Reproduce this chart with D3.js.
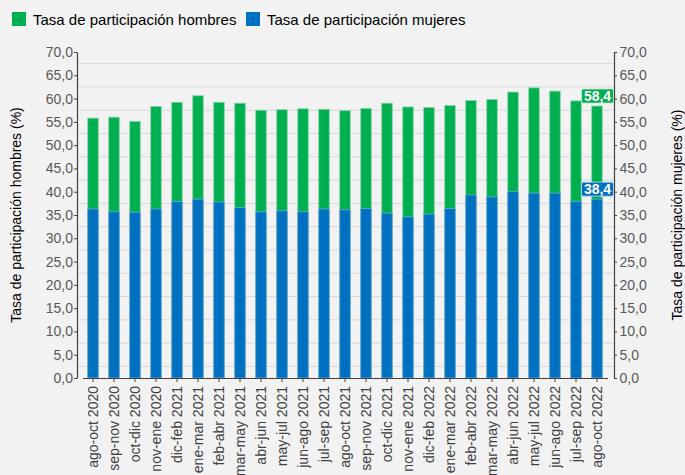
<!DOCTYPE html>
<html>
<head>
<meta charset="utf-8">
<script src="https://cdn.jsdelivr.net/npm/d3@7"></script>
<style>
  body { margin: 0; background: #f2f2f2; }
  svg { font-family: "Liberation Sans", Arial, sans-serif; }
</style>
</head>
<body>
<div id="chart"></div>
<script>
// periodos trimestrales moviles
var periodos = ["ago-oct 2020", "sep-nov 2020", "oct-dic 2020", "nov-ene 2020", "dic-feb 2021",
  "ene-mar 2021", "feb-abr 2021", "mar-may 2021", "abr-jun 2021", "may-jul 2021", "jun-ago 2021",
  "jul-sep 2021", "ago-oct 2021", "sep-nov 2021", "oct-dic 2021", "nov-ene 2021", "dic-feb 2022",
  "ene-mar 2022", "feb-abr 2022", "mar-may 2022", "abr-jun 2022", "may-jul 2022", "jun-ago 2022",
  "jul-sep 2022", "ago-oct 2022"];

var hombres = [55.8, 56.0, 55.1, 58.3, 59.2, 60.6, 59.2, 59.0, 57.5, 57.6, 57.8, 57.7, 57.4,
  57.9, 59.0, 58.2, 58.1, 58.5, 59.6, 59.8, 61.4, 62.3, 61.6, 59.5, 58.4];

var mujeres = [36.3, 35.7, 35.6, 36.3, 37.9, 38.4, 37.8, 36.6, 35.7, 35.9, 35.7, 36.3, 36.1,
  36.4, 35.4, 34.6, 35.2, 36.4, 39.3, 38.9, 40.0, 39.7, 39.7, 37.9, 38.4];

var yTicks = d3.range(0, 70.1, 5);
var gridVals = d3.range(2.5, 70, 5);

var width = 685, height = 475;
var verde = "#00b050", azul = "#0070c0";
var fmt = function(v) { return d3.format(".1f")(v).replace(".", ","); };

var svg = d3.select("#chart").append("svg")
    .attr("width", width)
    .attr("height", height);

svg.append("rect").attr("width", width).attr("height", height).attr("fill", "#f2f2f2");

var mLeft = 77, mRight = 614, mTop = 52, mBottom = 378;

var x = d3.scaleBand()
    .domain(periodos)
    .range([82.5, 607.5])
    .paddingInner(0.5)
    .paddingOuter(0.25);

var y = d3.scaleLinear()
    .domain([0, 70])
    .range([mBottom, mTop]);

// grid
svg.append("g")
  .selectAll("line")
  .data(gridVals)
  .enter().append("line")
    .attr("x1", mLeft).attr("x2", mRight)
    .attr("y1", function(d) { return y(d); })
    .attr("y2", function(d) { return y(d); })
    .attr("stroke", "#d9d9d9")
    .attr("stroke-width", 1);

// barras hombres (detras)
svg.append("g")
  .selectAll("rect")
  .data(hombres)
  .enter().append("rect")
    .attr("x", function(d, i) { return x(periodos[i]); })
    .attr("y", function(d) { return y(d); })
    .attr("width", x.bandwidth())
    .attr("height", function(d) { return y(0) - y(d); })
    .attr("fill", verde)
    .attr("stroke", "#7fd6a3")
    .attr("stroke-width", 0.8);

// barras mujeres (delante)
svg.append("g")
  .selectAll("rect")
  .data(mujeres)
  .enter().append("rect")
    .attr("x", function(d, i) { return x(periodos[i]); })
    .attr("y", function(d) { return y(d); })
    .attr("width", x.bandwidth())
    .attr("height", function(d) { return y(0) - y(d); })
    .attr("fill", azul)
    .attr("stroke", "#6fa8dc")
    .attr("stroke-width", 0.8);

// ejes
var yLeft = svg.append("g")
    .attr("transform", "translate(" + mLeft + ",0)")
    .call(d3.axisLeft(y).tickValues(yTicks).tickFormat(fmt).tickSize(3).tickSizeOuter(0));
var yRight = svg.append("g")
    .attr("transform", "translate(" + mRight + ",0)")
    .call(d3.axisRight(y).tickValues(yTicks).tickFormat(fmt).tickSize(3).tickSizeOuter(0));
var xAxis = svg.append("g")
    .attr("transform", "translate(0," + mBottom + ")")
    .call(d3.axisBottom(x).tickSize(4).tickSizeOuter(0));

[yLeft, yRight, xAxis].forEach(function(g) {
  g.select(".domain").attr("stroke", "#404040").attr("stroke-width", 1.2);
  g.selectAll(".tick line").attr("stroke", "#404040");
  g.selectAll("text").attr("fill", "#595959").style("font-size", "14px")
    .style("font-family", "'Liberation Sans', Arial, sans-serif");
});
yLeft.selectAll("text").attr("x", -4);
yRight.selectAll("text").attr("x", 5.5);

xAxis.selectAll("text")
    .attr("transform", "rotate(-90)")
    .attr("text-anchor", "end")
    .attr("x", -8)
    .attr("y", 0)
    .attr("dy", "0.35em")
    .attr("fill", "#404040")
    .style("font-size", "14px");

// titulos de ejes
svg.append("text")
    .attr("transform", "translate(21," + (mTop + mBottom) / 2 + ") rotate(-90)")
    .attr("text-anchor", "middle")
    .style("font-size", "14px")
    .attr("fill", "#000")
    .text("Tasa de participación hombres (%)");
svg.append("text")
    .attr("transform", "translate(682," + (mTop + mBottom) / 2 + ") rotate(-90)")
    .attr("text-anchor", "middle")
    .style("font-size", "14px")
    .attr("fill", "#000")
    .text("Tasa de participación mujeres (%)");

// leyenda
var legend = [["Tasa de participación hombres", verde, 12], ["Tasa de participación mujeres", azul, 246]];
legend.forEach(function(l) {
  svg.append("rect").attr("x", l[2]).attr("y", 12).attr("width", 14).attr("height", 14).attr("fill", l[1]);
  svg.append("text").attr("x", l[2] + 21).attr("y", 24.5)
      .style("font-size", "15px").attr("fill", "#000").text(l[0]);
});

// etiquetas ultimo valor
var last = periodos.length - 1;
[[hombres[last], verde, "#bfeccf"], [mujeres[last], azul, "#bfdbf0"]].forEach(function(p) {
  var cy = y(p[0]) - 10;
  svg.append("rect")
      .attr("x", mRight - 32.5).attr("y", cy - 7)
      .attr("width", 32).attr("height", 14).attr("rx", 2)
      .attr("fill", p[1])
      .attr("stroke", p[2])
      .attr("stroke-width", 0.8);
  svg.append("text")
      .attr("x", mRight - 16.5).attr("y", cy)
      .attr("dy", "0.36em")
      .attr("text-anchor", "middle")
      .attr("fill", "#fff")
      .style("font-size", "14px")
      .style("font-weight", "bold")
      .text(fmt(p[0]));
});
</script>
</body>
</html>
